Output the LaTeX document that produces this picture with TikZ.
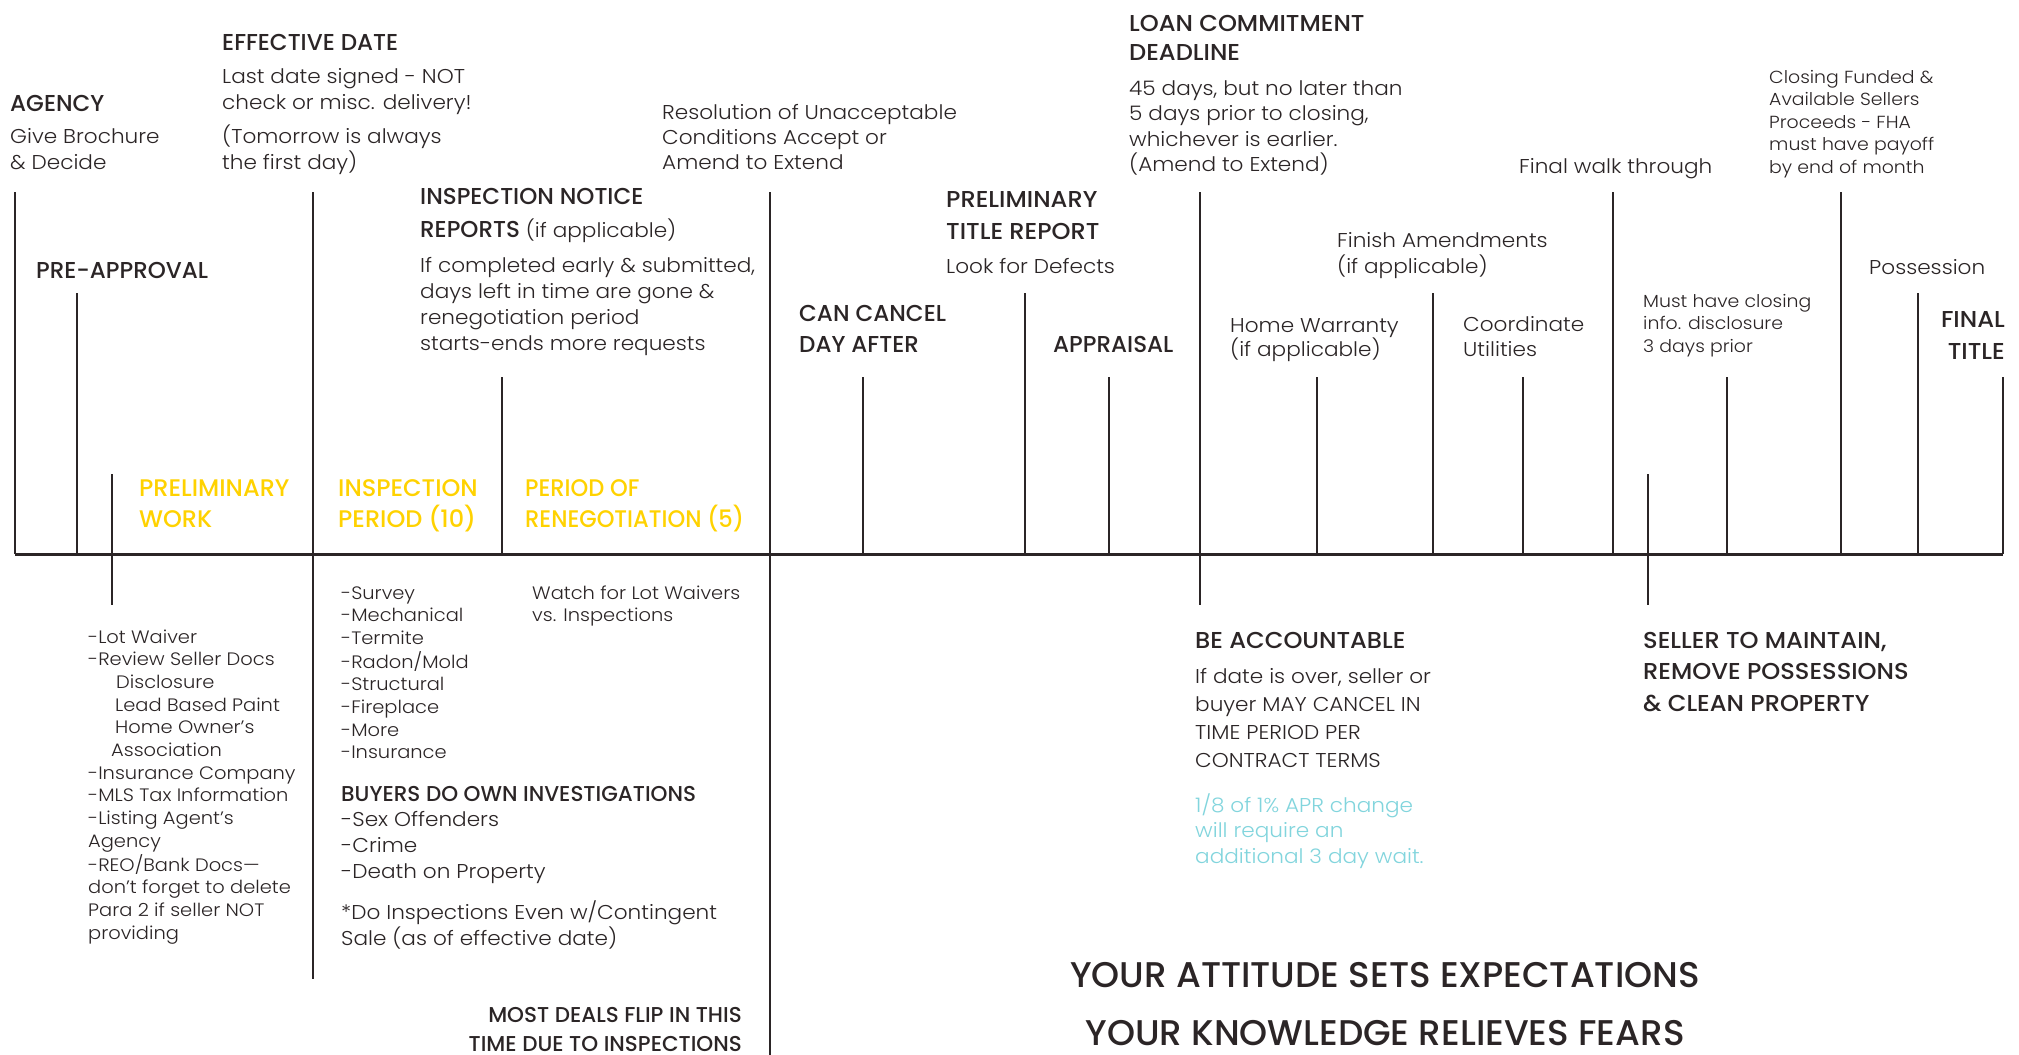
\documentclass[tikz,border=0pt]{standalone}
\usepackage{fontspec}
\IfFontExistsTF{Poppins Light}{\setmainfont{Poppins Light}[FakeStretch=1.08]}{\setmainfont{Poppins}[FakeStretch=1.08]}
\IfFontExistsTF{Poppins Medium}
  {\newfontfamily\hfont{Poppins Medium}
   \newfontfamily\hwide[FakeStretch=1.05]{Poppins Medium}
   \newfontfamily\hnarrow[FakeStretch=0.94]{Poppins Medium}}
  {\newfontfamily\hfont{Poppins}
   \newfontfamily\hwide[FakeStretch=1.05]{Poppins}
   \newfontfamily\hnarrow[FakeStretch=0.94]{Poppins}}
\definecolor{ink}{HTML}{2B2526}
\definecolor{gold}{HTML}{FFD200}
\definecolor{aqua}{HTML}{82D5DD}
\newcommand\ML[1]{\begin{tabular}[t]{@{}l@{}}#1\end{tabular}}
\newcommand\MR[1]{\begin{tabular}[t]{@{}r@{}}#1\end{tabular}}
\begin{document}
\begin{tikzpicture}[x=1pt,y=-1pt,
  tick/.style={draw=ink,line width=2pt},
  hd/.style={anchor=base west,inner sep=0pt,text=ink,font=\hfont\fontsize{23}{32}\selectfont},
  hw/.style={anchor=base west,inner sep=0pt,text=ink,font=\hwide\fontsize{23}{32}\selectfont},
  hs/.style={anchor=base west,inner sep=0pt,text=ink,font=\hfont\fontsize{21.5}{29}\selectfont},
  bd/.style={anchor=base west,inner sep=0pt,text=ink,font=\fontsize{20}{26}\selectfont},
  sm/.style={anchor=base west,inner sep=0pt,text=ink,font=\fontsize{17.5}{22.6}\selectfont},
  ls/.style={anchor=base west,inner sep=0pt,text=ink,font=\fontsize{18}{22.7}\selectfont},
  yl/.style={anchor=base west,inner sep=0pt,text=gold,font=\hfont\fontsize{24}{31}\selectfont},
  big/.style={anchor=base,inner sep=0pt,text=ink,font=\hfont\fontsize{35.7}{40}\selectfont},
]
\useasboundingbox (0,0) rectangle (2019,1055);
\fill[white] (0,0) rectangle (2019,1055);
% ticks
\foreach \x/\a/\b in {15/192/554, 77/293/554, 112/474/605, 313/192/979, 502/377/554,
  770/192/1055, 863/377/554, 1025/293/554, 1109/377/554, 1200/192/605, 1317/377/554,
  1433/293/554, 1523/377/554, 1613/192/554, 1648/474/605, 1727/377/554, 1841/192/554,
  1918/293/554, 2003/377/554}
  \draw[tick] (\x,\a) -- (\x,\b);
\draw[draw=ink,line width=3pt] (15,554) -- (2003,554);

% top headings
\node[hd] (agency) at (10,111) {AGENCY};
\node[bd] (give) at (10,143) {\ML{Give Brochure\\\& Decide}};
\node[hd] (preapp) at (36,278) {PRE-APPROVAL};
\node[hd] (effdate) at (222,50) {EFFECTIVE DATE};
\node[bd] (lastdate) at (222,83) {\ML{Last date signed - NOT\\check or misc. delivery!}};
\node[bd] (tomorrow) at (222,143) {\ML{(Tomorrow is always\\the first day)}};
\node[hd] (inspnot) at (420,204) {\ML{INSPECTION NOTICE\\[1pt]REPORTS {\normalfont\fontsize{20}{26}\selectfont (if applicable)}}};
\node[bd] (ifcomp) at (420,272) {\ML{If completed early \& submitted,\\days left in time are gone \&\\renegotiation period\\starts-ends more requests}};
\node[bd] (resol) at (662,119) {\ML{Resolution of Unacceptable\\[-1pt]Conditions Accept or\\[-1pt]Amend to Extend}};
\node[hd] (cancel) at (799,321) {\ML{CAN CANCEL\\[-1pt]DAY AFTER}};
\node[hw] (prtitle) at (946,207) {\ML{PRELIMINARY\\TITLE REPORT}};
\node[bd] (defects) at (946,273) {Look for Defects};
\node[hd] (apprais) at (1053,352) {APPRAISAL};
\node[hw] (loan) at (1129,31) {\ML{LOAN COMMITMENT\\[-3pt]DEADLINE}};
\node[bd] (days45) at (1129,95) {\ML{45 days, but no later than\\[-0.5pt]5 days prior to closing,\\[-0.5pt]whichever is earlier.\\[-0.5pt](Amend to Extend)}};
\node[bd] (finish) at (1337,247) {\ML{Finish Amendments\\(if applicable)}};
\node[bd] (homew) at (1230,332) {\ML{Home Warranty\\[-2pt](if applicable)}};
\node[bd] (coord) at (1463,331) {\ML{Coordinate\\[-1pt]Utilities}};
\node[bd] (walk) at (1519,173) {Final walk through};
\node[sm] (closing) at (1769,83) {\ML{Closing Funded \&\\Available Sellers\\Proceeds - FHA\\must have payoff\\by end of month}};
\node[sm] (musthave) at (1643,307) {\ML{Must have closing\\info. disclosure\\3 days prior}};
\node[bd] (possess) at (1869,274) {Possession};
\node[hw,anchor=base east] (final) at (2005,327) {\MR{FINAL\\TITLE}};

% yellow periods
\node[yl] (prelwork) at (139,496) {\ML{PRELIMINARY\\WORK}};
\node[yl] (insper) at (338,496) {\ML{INSPECTION\\PERIOD (10)}};
\node[yl,font=\hnarrow\fontsize{24}{31}\selectfont] (reneg) at (525,496) {\ML{PERIOD OF\\RENEGOTIATION (5)}};

% below the axis
\node[ls] (lot) at (88,643) {\ML{-Lot Waiver\\-Review Seller Docs\\\hspace{28pt}Disclosure\\\hspace{27pt}Lead Based Paint\\\hspace{27pt}Home Owner’s\\\hspace{23pt}Association\\-Insurance Company\\-MLS Tax Information\\-Listing Agent’s\\Agency\\-REO/Bank Docs—\\don’t forget to delete\\Para 2 if seller NOT\\providing}};
\node[ls] (survey) at (341,599) {\ML{-Survey\\-Mechanical\\-Termite\\-Radon/Mold\\-Structural\\-Fireplace\\-More\\-Insurance}};
\node[ls] (watch) at (532,599) {\ML{Watch for Lot Waivers\\vs. Inspections}};
\node[hs] (buyers) at (341,801) {BUYERS DO OWN INVESTIGATIONS};
\node[bd] (sexoff) at (341,826) {\ML{-Sex Offenders\\-Crime\\-Death on Property}};
\node[bd] (doinsp) at (341,919) {\ML{*Do Inspections Even w/Contingent\\Sale (as of effective date)}};
\node[hs,anchor=base east] (flip) at (742,1022) {\MR{MOST DEALS FLIP IN THIS\\TIME DUE TO INSPECTIONS}};

\node[hw] (beacc) at (1195,648) {BE ACCOUNTABLE};
\node[bd,font=\fontsize{20}{28.3}\selectfont] (ifdate) at (1195,683) {\ML{If date is over, seller or\\buyer MAY CANCEL IN\\TIME PERIOD PER\\CONTRACT TERMS}};
\node[bd,text=aqua,font=\fontsize{20}{25.5}\selectfont] (apr) at (1195,812) {\ML{1/8 of 1\% APR change\\will require an\\additional 3 day wait.}};
\node[hw,font=\hwide\fontsize{23}{31.5}\selectfont] (seller) at (1643,648) {\ML{SELLER TO MAINTAIN,\\REMOVE POSSESSIONS\\\& CLEAN PROPERTY}};

\node[big] (attitude) at (1385,987) {YOUR ATTITUDE SETS EXPECTATIONS};
\node[big] (knowledge) at (1385,1045) {YOUR KNOWLEDGE RELIEVES FEARS};
\end{tikzpicture}
\end{document}
